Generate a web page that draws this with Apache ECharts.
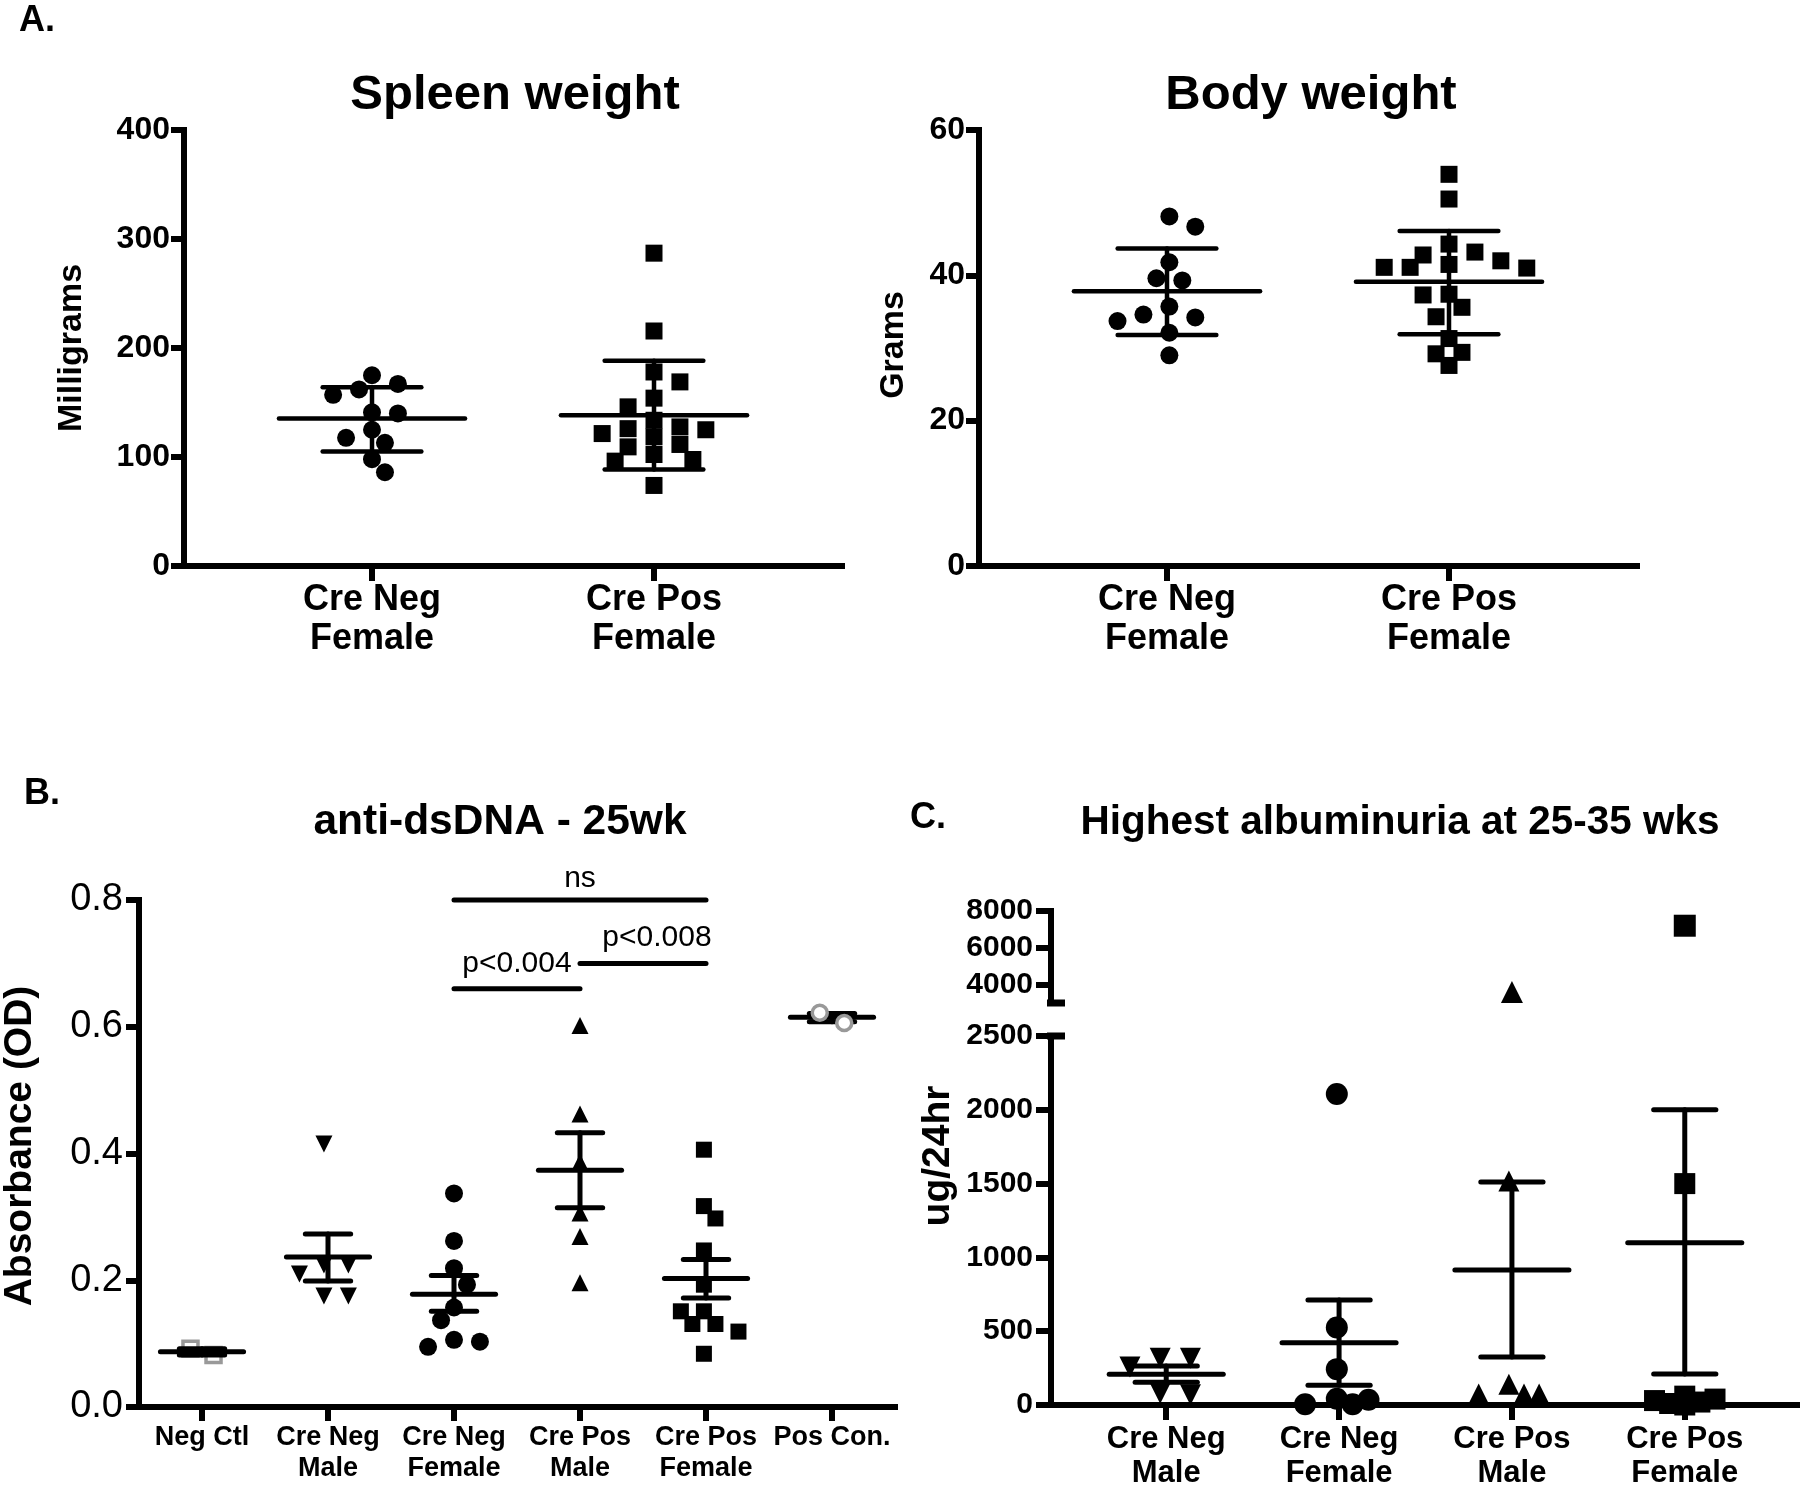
<!DOCTYPE html>
<html><head><meta charset="utf-8">
<script src="https://cdn.jsdelivr.net/npm/echarts@6/dist/echarts.min.js"></script>
<style>html,body{margin:0;padding:0;background:#fff}#c{width:1800px;height:1490px}</style>
</head><body><div id="c"></div>
<script>
// ---------------- DATA ----------------
// Panel A – Spleen weight (mg)
const spleenCats = ['Cre Neg\nFemale', 'Cre Pos\nFemale'];
const spleenNeg = [167, 157, 162, 175, 140, 141, 125, 117.6, 113, 98, 86];
const spleenPos = [287, 215.6, 178, 168.9, 154, 146, 133.7, 126, 121.5, 125, 127.6, 118.5, 111.5, 109.3, 102.3, 97.7, 96.2, 73.9];
const spleenMean = [135.3, 138.3];
const spleenLow = [105, 88.5];
const spleenHigh = [164, 188.4];
const spleenTicks = [0, 100, 200, 300, 400];

// Panel A – Body weight (g)
const bodyCats = ['Cre Neg\nFemale', 'Cre Pos\nFemale'];
const bodyNeg = [48.1, 46.7, 41.8, 39.3, 39.6, 35.7, 34.2, 34.6, 33.7, 32.1, 29.0];
const bodyPos = [53.9, 50.5, 44.3, 42.8, 43.2, 41.5, 41.1, 41.0, 41.1, 42.0, 37.4, 37.3, 35.6, 34.3, 31.3, 29.4, 29.2, 27.6];
const bodyMean = [37.8, 39.1];
const bodyLow = [31.8, 31.9];
const bodyHigh = [43.7, 46.1];
const bodyTicks = [0, 20, 40, 60];

// Panel B – anti-dsDNA (OD)
const dsCats = ['Neg Ctl', 'Cre Neg\nMale', 'Cre Neg\nFemale', 'Cre Pos\nMale', 'Cre Pos\nFemale', 'Pos Con.'];
const dsNegCtl = [0.082, 0.092];
const dsCreNegMale = [0.415, 0.224, 0.224, 0.21, 0.175, 0.175];
const dsCreNegFemale = [0.337, 0.262, 0.219, 0.193, 0.157, 0.137, 0.106, 0.095, 0.103];
const dsCrePosMale = [0.602, 0.4625, 0.386, 0.306, 0.269, 0.196];
const dsCrePosFemale = [0.406, 0.317, 0.2975, 0.247, 0.193, 0.151, 0.151, 0.131, 0.131, 0.119, 0.084];
const dsPosCon = [0.606, 0.622];
const dsMean = [0.087, 0.2366, 0.178, 0.3735, 0.2027, 0.615];
const dsLow = [0.082, 0.199, 0.151, 0.3144, 0.1718, 0.608];
const dsHigh = [0.092, 0.273, 0.2074, 0.4327, 0.2327, 0.621];
const dsTicks = [0, 0.2, 0.4, 0.6, 0.8];
const dsBracketFrom = [3, 3, 4];
const dsBracketTo = [5, 4, 5];
const dsBracketY = [0.8, 0.66, 0.70];
const dsBracketText = ['ns', 'p<0.004', 'p<0.008'];

// Panel C – Highest albuminuria (ug/24hr)
const albCats = ['Cre Neg\nMale', 'Cre Neg\nFemale', 'Cre Pos\nMale', 'Cre Pos\nFemale'];
const albCreNegMale = [316, 316, 258, 70, 80];
const albCreNegFemale = [2107, 525, 243, 36, 5, 5, 43];
const albCrePosMale = [3600, 1517, 75, 75, 75, 140];
const albCrePosFemale = [7200, 1500, 20, 40, 10, 0, 60, 30];
const albMean = [208, 421, 914, 1100];
const albLow = [154, 133, 325, 210];
const albHigh = [265, 711, 1510, 2000];
const albLowerTicks = [0, 500, 1000, 1500, 2000, 2500];
const albUpperTicks = [4000, 6000, 8000];
const albLowerRange = [0, 2500];
const albUpperRange = [3000, 8000];

// ---------------- LAYOUT / STYLE ----------------
const FONT = '"Liberation Sans", Arial, Helvetica, sans-serif';
const G = {
  spleen: {left: 184, top: 130, width: 658, height: 436},
  body:   {left: 979, top: 130, width: 658, height: 436},
  ds:     {left: 139, top: 900, width: 756, height: 507},
  albTop: {left: 1051, top: 911, width: 749, height: 92},
  albBot: {left: 1051, top: 1036, width: 749, height: 371}
};
const XR = { // x value ranges (category k sits at value k)
  spleen: [1/3, 8/3], body: [1/3, 8/3], ds: [0.5, 6.5], alb: [1/3, 14/3]
};

function pxPerX(g, r) { return g.width / (r[1] - r[0]); }
function pxPerY(g, lo, hi) { return g.height / (hi - lo); }

// beeswarm-like horizontal spreading (GraphPad style scatter dot plot)
function swarm(values, center, pxX, pxY, sym, maxPx) {
  const order = values.map((v, i) => i).sort((a, b) => values[b] - values[a]);
  const step = sym * 0.72, minD = sym * 0.95;
  const kmax = Math.max(0, Math.floor(maxPx / step));
  const placed = [];
  const offs = new Array(values.length);
  for (const i of order) {
    const y = values[i] * pxY;
    const sumOff = placed.reduce((s, p) => s + p[0], 0);
    const cands = [0];
    for (let k = 1; k <= kmax; k++) {
      if (sumOff > 0) cands.push(-k, k); else cands.push(k, -k);
    }
    let best = 0, bestD = -1;
    for (const k of cands) {
      const x = k * step;
      let d = Infinity;
      for (const p of placed) d = Math.min(d, Math.hypot(p[0] - x, p[1] - y));
      if (d >= minD) { best = x; bestD = d; break; }
      if (d > bestD + 0.5) { bestD = d; best = x; }
    }
    placed.push([best, y]);
    offs[i] = best;
  }
  const mean = offs.reduce((s, o) => s + o, 0) / (offs.length || 1);
  return values.map((v, i) => [center + (offs[i] - mean) / pxX, v]);
}

function yAx(gi, min, max, ticks, lab, fmt) {
  return {
    type: 'value', gridIndex: gi, min: min, max: max,
    axisLine: {show: true, onZero: false, lineStyle: {color: '#000', width: 6, cap: 'square'}},
    axisTick: {show: true, length: lab.tick, customValues: ticks, lineStyle: {color: '#000', width: 6}},
    axisLabel: {show: true, customValues: ticks, margin: lab.margin, color: '#000', fontFamily: FONT,
      fontSize: lab.size, fontWeight: lab.weight, formatter: fmt || (v => String(v))},
    splitLine: {show: false}
  };
}
function xAx(gi, range, cats, lab, show) {
  const vals = cats.map((c, i) => i + 1);
  return {
    type: 'value', gridIndex: gi, min: range[0], max: range[1], show: show !== false,
    axisLine: {show: true, onZero: false, lineStyle: {color: '#000', width: 6, cap: 'square'}},
    axisTick: {show: true, length: lab.tick, customValues: vals, lineStyle: {color: '#000', width: 6}},
    axisLabel: {show: true, customValues: vals, margin: lab.margin, color: '#000', fontFamily: FONT,
      fontSize: lab.size, fontWeight: 'bold', lineHeight: lab.lh,
      formatter: v => cats[Math.round(v) - 1] || ''},
    splitLine: {show: false}
  };
}
function pts(gi, data, symbol, size, extra) {
  const base = {
    type: 'scatter', xAxisIndex: gi, yAxisIndex: gi, data: data, symbol: symbol, symbolSize: size,
    clip: false, z: 2, silent: true, itemStyle: {color: '#000', opacity: 1}
  };
  if (extra && extra.itemStyle) extra.itemStyle = Object.assign({opacity: 1}, extra.itemStyle);
  return Object.assign(base, extra || {});
}
function errBars(gi, means, lows, highs, meanHalf, capHalf, lw) {
  return {
    type: 'custom', xAxisIndex: gi, yAxisIndex: gi, z: 3, silent: true, clip: false,
    data: means.map((m, i) => [i + 1, m, lows[i], highs[i]]),
    renderItem: function (params, api) {
      const x = api.value(0), m = api.value(1), lo = api.value(2), hi = api.value(3);
      const st = {stroke: '#000', lineWidth: lw, lineCap: 'round'};
      const seg = (a, b) => ({type: 'line', shape: {x1: a[0], y1: a[1], x2: b[0], y2: b[1]}, style: st});
      return {type: 'group', children: [
        seg(api.coord([x - meanHalf, m]), api.coord([x + meanHalf, m])),
        seg(api.coord([x, lo]), api.coord([x, hi])),
        seg(api.coord([x - capHalf, lo]), api.coord([x + capHalf, lo])),
        seg(api.coord([x - capHalf, hi]), api.coord([x + capHalf, hi]))
      ]};
    }
  };
}

// ---------------- BUILD ----------------
const series = [];

// Spleen
{
  const px = pxPerX(G.spleen, XR.spleen), py = pxPerY(G.spleen, 0, 400);
  series.push(pts(0, swarm(spleenNeg, 1, px, py, 18, 60), 'circle', 18));
  series.push(pts(0, swarm(spleenPos, 2, px, py, 18, 70), 'rect', 17));
  series.push(errBars(0, spleenMean, spleenLow, spleenHigh, 0.33, 0.175, 4.5));
}
// Body
{
  const px = pxPerX(G.body, XR.body), py = pxPerY(G.body, 0, 60);
  series.push(pts(1, swarm(bodyNeg, 1, px, py, 18, 60), 'circle', 18));
  series.push(pts(1, swarm(bodyPos, 2, px, py, 18, 85), 'rect', 17));
  series.push(errBars(1, bodyMean, bodyLow, bodyHigh, 0.33, 0.175, 4.5));
}
// anti-dsDNA
{
  const px = pxPerX(G.ds, XR.ds), py = pxPerY(G.ds, 0, 0.8);
  series.push(pts(2, swarm(dsNegCtl, 1, px, py, 16, 30), 'rect', 15,
    {itemStyle: {color: 'rgba(0,0,0,0)', borderColor: '#999', borderWidth: 3.5}}));
  series.push(pts(2, swarm(dsCreNegMale, 2, px, py, 17, 35), 'triangle', 17, {symbolRotate: 180}));
  series.push(pts(2, swarm(dsCreNegFemale, 3, px, py, 18, 35), 'circle', 18));
  series.push(pts(2, swarm(dsCrePosMale, 4, px, py, 17, 35), 'triangle', 17));
  series.push(pts(2, swarm(dsCrePosFemale, 5, px, py, 16, 35), 'rect', 16));
  series.push(errBars(2, dsMean, dsLow, dsHigh, 0.33, 0.18, 5));
  series.push(pts(2, swarm(dsPosCon, 6, px, py, 17, 30), 'circle', 15,
    {z: 4, itemStyle: {color: '#fff', borderColor: '#999', borderWidth: 3.5}}));
  const labDist = [6, 9, 10], labOff = [[0, 0], [0, 0], [14, 0]];
  dsBracketText.forEach((t, i) => {
    series.push({type: 'line', xAxisIndex: 2, yAxisIndex: 2, silent: true, clip: false, z: 3,
      data: [[dsBracketFrom[i], dsBracketY[i]], [dsBracketTo[i], dsBracketY[i]]],
      symbol: 'none', lineStyle: {color: '#000', width: 5, cap: 'round', opacity: 1}});
    series.push({type: 'scatter', xAxisIndex: 2, yAxisIndex: 2, silent: true, clip: false,
      data: [[(dsBracketFrom[i] + dsBracketTo[i]) / 2, dsBracketY[i]]], symbolSize: 1,
      itemStyle: {color: 'rgba(0,0,0,0)', opacity: 1},
      label: {show: true, position: 'top', distance: labDist[i], offset: labOff[i], formatter: t,
        fontFamily: FONT, fontSize: 30, color: '#000', opacity: 1}});
  });
}
// Albuminuria (broken axis: upper grid 3, lower grid 4)
{
  const px = pxPerX(G.albBot, XR.alb);
  const pyLo = pxPerY(G.albBot, albLowerRange[0], albLowerRange[1]);
  const pyHi = pxPerY(G.albTop, albUpperRange[0], albUpperRange[1]);
  const groups = [albCreNegMale, albCreNegFemale, albCrePosMale, albCrePosFemale];
  const syms = [['triangle', 180, 21], ['circle', 0, 22], ['triangle', 0, 21], ['rect', 0, 21]];
  groups.forEach((g, i) => {
    const lo = g.filter(v => v <= albLowerRange[1]);
    const hi = g.filter(v => v > albLowerRange[1]);
    series.push(pts(4, swarm(lo, i + 1, px, pyLo, syms[i][2], 45), syms[i][0], syms[i][2], {symbolRotate: syms[i][1]}));
    if (hi.length) series.push(pts(3, swarm(hi, i + 1, px, pyHi, syms[i][2], 45), syms[i][0], syms[i][2] + 1, {symbolRotate: syms[i][1]}));
  });
  series.push(errBars(4, albMean, albLow, albHigh, 0.33, 0.18, 5));
  // axis-break caps
  const a = XR.alb[0] - 12 / px, b = XR.alb[0] + 14 / px;
  series.push({type: 'line', xAxisIndex: 3, yAxisIndex: 3, silent: true, clip: false, symbol: 'none', z: 1,
    data: [[a, albUpperRange[0]], [b, albUpperRange[0]]], lineStyle: {color: '#000', width: 7, opacity: 1}});
  series.push({type: 'line', xAxisIndex: 4, yAxisIndex: 4, silent: true, clip: false, symbol: 'none', z: 1,
    data: [[a, albLowerRange[1]], [b, albLowerRange[1]]], lineStyle: {color: '#000', width: 7, opacity: 1}});
}

const tA = {tick: 13, margin: 14, size: 32, weight: 'bold'};
const tB = {tick: 13, margin: 16, size: 38, weight: 'normal'};
const tC = {tick: 15, margin: 18, size: 30, weight: 'bold'};
const xA = {tick: 15, margin: 15, size: 36, lh: 39};
const xB = {tick: 14, margin: 15, size: 27, lh: 31};
const xC = {tick: 15, margin: 17, size: 31, lh: 34};

const txt = (x, y, text, size, weight, extra) => Object.assign({
  type: 'text', x: x, y: y, silent: true,
  style: {text: text, fill: '#000', font: (weight || 'bold') + ' ' + size + 'px ' + FONT,
    textAlign: 'center', textVerticalAlign: 'middle'}
}, extra || {});

const option = {
  animation: false,
  backgroundColor: '#fff',
  grid: [G.spleen, G.body, G.ds, G.albTop, G.albBot],
  xAxis: [
    xAx(0, XR.spleen, spleenCats, xA),
    xAx(1, XR.body, bodyCats, xA),
    xAx(2, XR.ds, dsCats, xB),
    xAx(3, XR.alb, albCats, xC, false),
    xAx(4, XR.alb, albCats, xC)
  ],
  yAxis: [
    yAx(0, 0, 400, spleenTicks, tA),
    yAx(1, 0, 60, bodyTicks, tA),
    yAx(2, 0, 0.8, dsTicks, tB, v => v.toFixed(1)),
    yAx(3, albUpperRange[0], albUpperRange[1], albUpperTicks, tC),
    yAx(4, albLowerRange[0], albLowerRange[1], albLowerTicks, tC)
  ],
  series: series,
  graphic: [
    txt(37, 21, 'A.', 36, 'bold'),
    txt(515, 95, 'Spleen weight', 49, 'bold'),
    txt(1311, 95, 'Body weight', 49, 'bold'),
    txt(72, 348, 'Milligrams', 34, 'bold', {rotation: Math.PI / 2}),
    txt(894, 345, 'Grams', 34, 'bold', {rotation: Math.PI / 2}),
    txt(42, 794, 'B.', 36, 'bold'),
    txt(500, 822, 'anti-dsDNA - 25wk', 42.5, 'bold'),
    txt(20, 1146, 'Absorbance (OD)', 39, 'bold', {rotation: Math.PI / 2}),
    txt(928, 818, 'C.', 36, 'bold'),
    txt(1400, 823, 'Highest albuminuria at 25-35 wks', 40.5, 'bold'),
    txt(938, 1156, 'ug/24hr', 39, 'bold', {rotation: Math.PI / 2})
  ]
};

const chart = echarts.init(document.getElementById('c'), null, {renderer: 'canvas', width: 1800, height: 1490});
chart.setOption(option);
</script>
</body></html>
